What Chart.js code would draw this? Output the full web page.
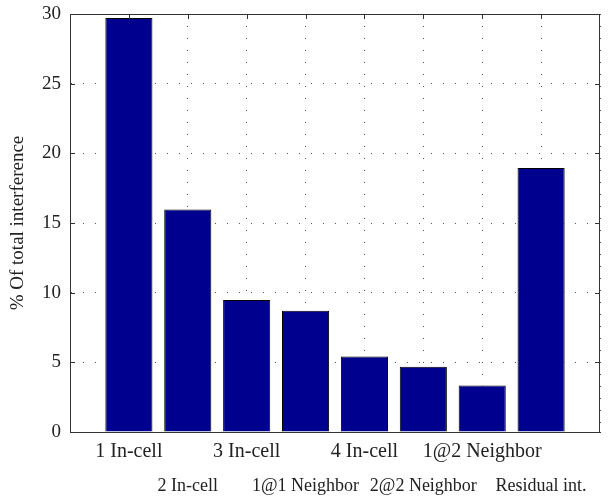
<!DOCTYPE html>
<html>
<head>
<meta charset="utf-8">
<script src="https://cdn.jsdelivr.net/npm/chart.js@4"></script>
<style>
  html, body { margin: 0; padding: 0; background: #fff; }
  .wrap { width: 608px; height: 497px; }
</style>
</head>
<body>
<div class="wrap"><canvas id="chart"></canvas></div>
<script>
// bar labels, left to right
const categories = ['1 In-cell', '2 In-cell', '3 In-cell', '1@1 Neighbor', '4 In-cell', '2@2 Neighbor', '1@2 Neighbor', 'Residual int.'];
const positions = [1, 2, 3, 4, 5, 6, 7, 8];
const interference = [29.72, 15.96, 9.48, 8.71, 5.41, 4.69, 3.33, 18.95];
const yTicks = [0, 5, 10, 15, 20, 25, 30];

const serif = "'Liberation Serif', 'Times New Roman', serif";
const textColor = '#222';

// box round the plot + small inward ticks, drawn over the bars like matlab does
const frame = {
  id: 'frame',
  afterDatasetsDraw(chart) {
    const { ctx, chartArea: a, scales } = chart;
    ctx.save();
    ctx.strokeStyle = '#333';
    ctx.lineWidth = 1;
    ctx.beginPath();
    ctx.rect(a.left + 0.5, a.top + 0.5, a.right - a.left - 1, a.bottom - a.top);
    yTicks.forEach((v) => {
      const y = Math.round(scales.y.getPixelForValue(v)) + 0.5;
      ctx.moveTo(a.left, y); ctx.lineTo(a.left + 5, y);
      ctx.moveTo(a.right, y); ctx.lineTo(a.right - 5, y);
    });
    positions.forEach((v) => {
      const x = Math.round(scales.x.getPixelForValue(v)) + 0.5;
      ctx.moveTo(x, a.top); ctx.lineTo(x, a.top + 5);
    });
    ctx.stroke();
    ctx.restore();
  }
};

const data = {
  datasets: [{
    data: positions.map((x, i) => ({ x: x, y: interference[i] })),
    backgroundColor: '#00008f',
    borderColor: '#000',
    borderWidth: 1,
    borderSkipped: 'bottom',
    barPercentage: 0.8,
    categoryPercentage: 1
  }]
};

const config = {
  type: 'bar',
  data,
  options: {
    responsive: true,
    maintainAspectRatio: false,
    animation: false,
    layout: { padding: { top: 14, right: 8, left: 0, bottom: 0 } },
    plugins: { legend: { display: false }, tooltip: { enabled: false } },
    scales: {
      x: {
        type: 'linear',
        min: 0,
        max: 9,
        offset: false,
        afterFit: (s) => { s.height = 65; s.paddingLeft = 0; s.paddingRight = 0; },
        grid: { color: '#555', lineWidth: 1, drawTicks: false, offset: false },
        border: { display: true, color: '#333', width: 1, dash: [1, 11] },
        ticks: {
          stepSize: 1,
          autoSkip: false,
          maxRotation: 0,
          padding: 8,
          color: textColor,
          font: (ctx) => {
            const i = positions.indexOf(ctx.tick ? ctx.tick.value : -1);
            if (i % 2 === 1) return { family: serif, size: 18, lineHeight: 1.7 };
            return { family: serif, size: 20, lineHeight: 1.2 };
          },
          callback: (value) => {
            const i = positions.indexOf(value);
            if (i < 0) return '';
            return i % 2 === 0 ? categories[i] : ['', categories[i]];
          }
        }
      },
      y: {
        min: 0,
        max: 30,
        afterFit: (s) => { s.width = 70; s.paddingTop = 0; s.paddingBottom = 0; },
        grid: { color: '#555', lineWidth: 1, drawTicks: false },
        border: { display: true, color: '#333', width: 1, dash: [1, 11] },
        ticks: {
          stepSize: 5,
          padding: 9,
          color: textColor,
          font: { family: serif, size: 19 }
        },
        title: {
          display: true,
          text: '% Of total interference',
          color: textColor,
          padding: { top: 7, bottom: 0 },
          font: { family: serif, size: 19 }
        }
      }
    }
  },
  plugins: [frame]
};

const myChart = new Chart(document.getElementById('chart'), config);
</script>
</body>
</html>
